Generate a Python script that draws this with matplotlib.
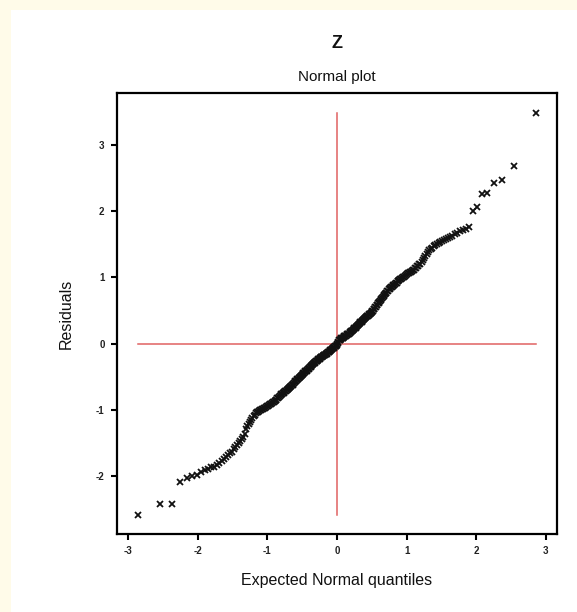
import matplotlib
matplotlib.use("Agg")
import matplotlib.pyplot as plt
from matplotlib.patches import Rectangle
from statistics import NormalDist

plt.rcParams['font.family'] = ['Liberation Sans', 'DejaVu Sans']

# Sorted residuals (n = 300)
residuals = [
    -2.60, -2.43, -2.42, -2.09, -2.03, -2.01, -1.99,
    -1.94, -1.91, -1.89, -1.87, -1.86, -1.84, -1.81, -1.77, -1.74, -1.71, -1.69, -1.66, -1.64,
    -1.59, -1.56, -1.54, -1.51, -1.48, -1.45, -1.42,
    -1.36, -1.29, -1.25, -1.21, -1.18, -1.15, -1.12,
    -1.10, -1.08, -1.05, -1.04, -1.03, -1.02, -1.01, -1.00, -0.99, -0.99,
    -0.98, -0.97, -0.96, -0.95, -0.94, -0.93,
    -0.92, -0.91, -0.90, -0.89, -0.88, -0.87, -0.86, -0.85, -0.83, -0.82, -0.81, -0.80, -0.78, -0.77, -0.76, -0.75,
    -0.74, -0.73, -0.72, -0.71, -0.70, -0.69, -0.68, -0.67, -0.66, -0.65, -0.64, -0.63, -0.62, -0.61, -0.60, -0.58,
    -0.57, -0.56, -0.55, -0.54, -0.53, -0.52, -0.51,
    -0.50, -0.49, -0.48, -0.47, -0.46, -0.45, -0.44, -0.43, -0.42, -0.42, -0.41, -0.40, -0.39, -0.38, -0.37, -0.36,
    -0.35, -0.34, -0.33, -0.32, -0.31, -0.30, -0.30, -0.29, -0.28, -0.27,
    -0.26, -0.26, -0.25, -0.24, -0.24, -0.23, -0.22, -0.21, -0.21, -0.20, -0.19, -0.19, -0.18, -0.17, -0.17, -0.16,
    -0.15, -0.15, -0.14, -0.13, -0.12, -0.12, -0.11,
    -0.10, -0.10, -0.09, -0.08, -0.07, -0.07, -0.06, -0.05, -0.04, -0.04, -0.03, -0.02,
    -0.01, 0.01, 0.03, 0.05,
    0.06, 0.06, 0.07, 0.08, 0.08, 0.09, 0.09, 0.10, 0.11, 0.11, 0.12, 0.12, 0.13, 0.14, 0.14, 0.15, 0.15, 0.16,
    0.17, 0.18, 0.19, 0.19, 0.20, 0.21, 0.22, 0.23, 0.24, 0.24, 0.25, 0.26,
    0.27, 0.28, 0.29, 0.30, 0.31, 0.32, 0.32, 0.33, 0.34, 0.35, 0.36, 0.37, 0.38, 0.39, 0.40, 0.41, 0.42, 0.42,
    0.43, 0.44, 0.45, 0.46, 0.47, 0.48, 0.49, 0.50,
    0.52, 0.53, 0.55, 0.56, 0.58, 0.59, 0.61, 0.62, 0.63, 0.65, 0.66, 0.67, 0.69, 0.70,
    0.72, 0.73, 0.75, 0.76, 0.77, 0.79, 0.80, 0.82, 0.83, 0.84,
    0.85, 0.86, 0.87, 0.88, 0.89, 0.90, 0.91, 0.92, 0.94, 0.95,
    0.96, 0.97, 0.98, 0.99, 1.00, 1.01, 1.02, 1.04, 1.05,
    1.06, 1.07, 1.08, 1.09, 1.10, 1.11,
    1.12, 1.14, 1.15, 1.17, 1.18, 1.20, 1.21,
    1.24, 1.27, 1.30, 1.32, 1.35,
    1.38, 1.41, 1.43, 1.45, 1.47, 1.49, 1.50,
    1.52, 1.53, 1.55, 1.56, 1.58, 1.59, 1.61,
    1.63, 1.66, 1.68, 1.71,
    1.72, 1.74, 1.76,
    2.00, 2.07, 2.26, 2.28, 2.43, 2.47, 2.68, 3.48,
]
residuals = sorted(residuals)

x_ticks = [-3, -2, -1, 0, 1, 2, 3]
y_ticks = [-2, -1, 0, 1, 2, 3]
main_title = "Z"
sub_title = "Normal plot"
x_label = "Expected Normal quantiles"
y_label = "Residuals"

# Expected normal quantiles (Blom)
n = len(residuals)
nd = NormalDist()
quantiles = [nd.inv_cdf((i - 0.375) / (n + 0.25)) for i in range(1, n + 1)]

W, H = 577, 612
fig = plt.figure(figsize=(W / 100, H / 100), dpi=100)
fig.patch.set_facecolor('#fffbe9')
fig.patches.append(Rectangle((11 / W, 0), 1 - 11 / W, 1 - 10 / H,
                             transform=fig.transFigure, facecolor='white',
                             edgecolor='none', zorder=-10))

ax = fig.add_axes([117 / W, 1 - 534 / H, (557 - 117) / W, (534 - 93) / H])
ax.set_facecolor('white')
ax.set_zorder(1)

red = '#e06262'
ax.plot([0, 0], [min(residuals), max(residuals)], color=red, lw=1.1, zorder=1)
ax.plot([min(quantiles), max(quantiles)], [0, 0], color=red, lw=1.1, zorder=1)

ax.plot(quantiles, residuals, linestyle='none', marker='x', color='#111111',
        markersize=4.5, markeredgewidth=1.3, zorder=2)

ax.set_xlim(-3.16, 3.16)
ax.set_ylim(-2.88, 3.79)
ax.set_xticks(x_ticks)
ax.set_yticks(y_ticks)
ax.set_xticklabels([str(t) for t in x_ticks], fontsize=7, fontweight='bold', color='#222222')
ax.set_yticklabels([str(t) for t in y_ticks], fontsize=7, fontweight='bold', color='#222222')
ax.tick_params(direction='out', length=4, width=1.5, pad=5, color='black')

for s in ax.spines.values():
    s.set_linewidth(1.6)
    s.set_color('black')

ax.set_xlabel(x_label, fontsize=11.5, labelpad=12, color='#111111')
ax.set_ylabel(y_label, fontsize=11.5, labelpad=16, color='#111111')

fig.text(337 / W, 1 - 43 / H, main_title, ha='center', va='center',
         fontsize=13, fontweight='bold', color='#111111')
fig.text(337 / W, 1 - 77 / H, sub_title, ha='center', va='center',
         fontsize=11, color='#111111')

fig.savefig('out.png', dpi=100, facecolor=fig.get_facecolor())
